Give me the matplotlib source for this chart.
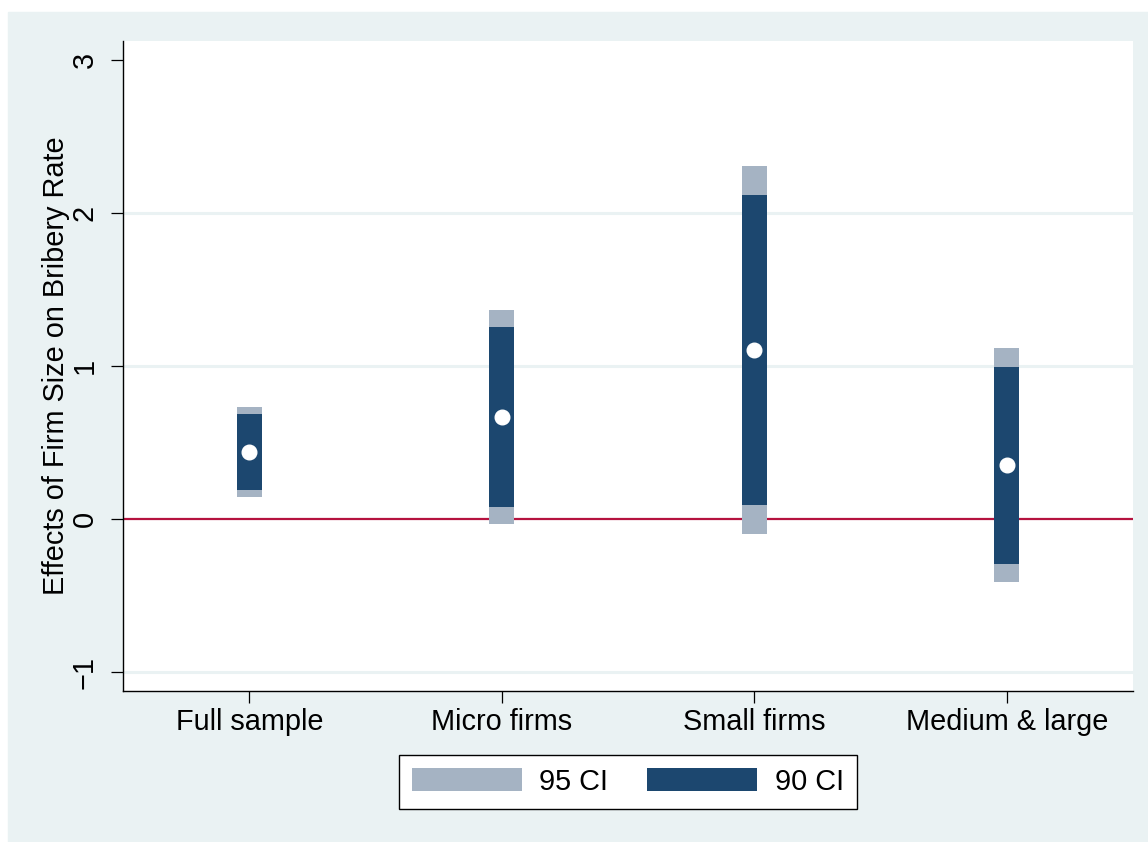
import numpy as np
import matplotlib.pyplot as plt
from matplotlib.patches import Patch

# Dados
grupos = ["Full sample", "Micro firms", "Small firms", "Medium & large"]
efeito = [0.438, 0.667, 1.105, 0.353]
ci95_inf = [0.144, -0.033, -0.098, -0.412]
ci95_sup = [0.732, 1.366, 2.307, 1.118]
ci90_inf = [0.190, 0.078, 0.092, -0.294]
ci90_sup = [0.686, 1.255, 2.118, 0.993]

# Cores
fundo = '#EAF2F3'
cor95 = '#A5B3C3'
cor90 = '#1C476F'
vermelho = '#B5123F'

plt.rcParams['font.family'] = ['Liberation Sans', 'DejaVu Sans']
plt.rcParams['font.size'] = 20.8

fig = plt.figure(figsize=(11.48, 8.42), dpi=100)
fig.patches.append(plt.Rectangle((8 / 1148, 0), 1140 / 1148, 830 / 842,
                                 transform=fig.transFigure, color=fundo, zorder=-10))
ax = fig.add_axes([123 / 1148, 1 - 691 / 842, 1010 / 1148, 650 / 842])
ax.set_facecolor('white')

x_pos = np.arange(1, len(grupos) + 1)
e95 = np.array(ci95_sup) - np.array(ci95_inf)
e90 = np.array(ci90_sup) - np.array(ci90_inf)

# Linhas de grade e linha do zero
for yv in [-1, 1, 2]:
    ax.axhline(yv, color=fundo, linewidth=2.2, zorder=0)
ax.axhline(0, color=vermelho, linewidth=1.6, zorder=1)

# Intervalos de confiança
ax.bar(x_pos, e95, bottom=ci95_inf, width=0.1, color=cor95, zorder=2)
ax.bar(x_pos, e90, bottom=ci90_inf, width=0.1, color=cor90, zorder=3)
ax.plot(x_pos, efeito, 'o', color='white', markersize=10.5, zorder=4)

ax.set_xlim(0.5, 4.5)
ax.set_ylim(-1.124, 3.124)
ax.set_xticks(x_pos)
ax.set_xticklabels(grupos)
ax.set_yticks([-1, 0, 1, 2, 3])
ax.set_yticklabels(['\u22121', '0', '1', '2', '3'], rotation=90, va='center')
ax.tick_params(axis='both', length=8.5, width=0.9, color='black')
ax.tick_params(axis='y', pad=9)
ax.tick_params(axis='x', pad=4)

for lado in ['top', 'right']:
    ax.spines[lado].set_visible(False)
for lado in ['left', 'bottom']:
    ax.spines[lado].set_linewidth(1.0)

ax.set_ylabel("Effects of Firm Size on Bribery Rate")
ax.yaxis.set_label_coords(-53 / 1010, 0.5)

# Legenda
handles = [Patch(facecolor=cor95, edgecolor='none', label='95 CI'),
           Patch(facecolor=cor90, edgecolor='none', label='90 CI')]
leg = ax.legend(handles=handles, loc='upper center', bbox_to_anchor=(0.5, -0.098),
                ncol=2, frameon=True, fancybox=False, shadow=False,
                handlelength=3.8, handleheight=0.87, handletextpad=0.6,
                columnspacing=1.35, borderpad=0.45, borderaxespad=0)
leg.get_frame().set_edgecolor('black')
leg.get_frame().set_linewidth(1.0)
leg.get_frame().set_alpha(1)

plt.savefig('out.png', dpi=100)
